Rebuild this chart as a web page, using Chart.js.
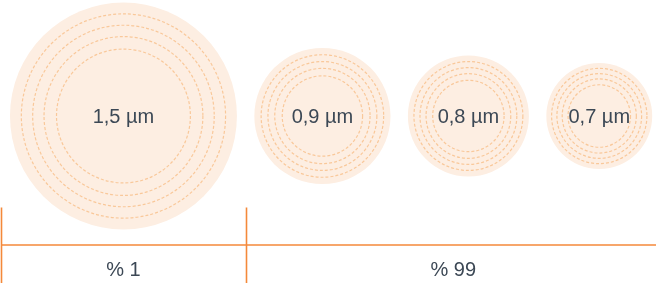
<!DOCTYPE html>
<html>
<head>
<meta charset="utf-8">
<script src="https://cdn.jsdelivr.net/npm/chart.js@4"></script>
<style>
  html, body { margin: 0; padding: 0; background: #fff; }
  #wrap { width: 656px; height: 286px; position: relative; }
</style>
</head>
<body>
<div id="wrap"><canvas id="chart"></canvas></div>
<script>
// particle diameters in µm
const sizes = [1.5, 0.9, 0.8, 0.7]
const sizeLabels = ['1,5 µm', '0,9 µm', '0,8 µm', '0,7 µm']
// share of particles, and how many circles belong to each group
const groupLabels = ['% 1', '% 99']
const groupMembers = [1, 3]
// dotted rings inside each circle, as share of the radius
const ringShares = [0.9, 0.8, 0.7, 0.59]

const GAP = 0.115
const FILL = '#fdeee2'
const RING = '#f9c89a'
const ORANGE = '#f4893a'
const TEXT = '#3c4855'
const FONT = '20px "Liberation Sans", Arial, sans-serif'

const centers = []
let pos = 0
sizes.forEach(d => {
  centers.push(pos + d / 2)
  pos += d + GAP
})

const points = centers.map((x, i) => ({ x, y: 0, d: sizes[i] }))

// radius in pixels, measured on the x scale so a circle is as wide as its diameter
const radiusFor = share => ctx => {
  if (!ctx.raw) return 0
  const s = ctx.chart.scales.x
  const r = (s.getPixelForValue(ctx.raw.d) - s.getPixelForValue(0)) / 2 * share
  return isFinite(r) ? r : 0
}

const datasets = [{
  data: points,
  order: 2,
  pointBackgroundColor: FILL,
  pointBorderWidth: 0,
  pointRadius: radiusFor(1),
  clip: false
}]

ringShares.forEach(share => {
  datasets.push({
    data: points,
    order: 1,
    dashed: true,
    pointBackgroundColor: 'rgba(0,0,0,0)',
    pointBorderColor: RING,
    pointBorderWidth: 1.2,
    pointRadius: radiusFor(share),
    clip: false
  })
})

const dashPlugin = {
  id: 'dash',
  beforeDatasetDraw (chart, args) {
    if (!chart.data.datasets[args.index].dashed) return
    chart.ctx.save()
    chart.ctx.setLineDash([3, 2])
  },
  afterDatasetDraw (chart, args) {
    if (!chart.data.datasets[args.index].dashed) return
    chart.ctx.restore()
  }
}

const labelPlugin = {
  id: 'sizeLabels',
  afterDatasetsDraw (chart) {
    const ctx = chart.ctx
    const meta = chart.getDatasetMeta(0)
    ctx.save()
    ctx.font = FONT
    ctx.fillStyle = TEXT
    ctx.textAlign = 'center'
    ctx.textBaseline = 'alphabetic'
    meta.data.forEach((el, i) => {
      ctx.fillText(sizeLabels[i], el.x, el.y + 7)
    })
    ctx.restore()
  }
}

const groupPlugin = {
  id: 'groups',
  afterDraw (chart) {
    const ctx = chart.ctx
    const x = chart.scales.x
    const bottom = chart.chartArea.bottom
    const lineY = bottom + 13

    // group edges in µm, taken from the circles they hold
    const edges = [-GAP / 2]
    let idx = 0
    groupMembers.forEach(n => {
      let end = 0
      for (let k = 0; k < n; k++) end = centers[idx + k] + sizes[idx + k] / 2
      idx += n
      edges.push(end + GAP / 2)
    })

    ctx.save()
    ctx.strokeStyle = ORANGE
    ctx.lineWidth = 1.6
    ctx.beginPath()
    ctx.moveTo(x.getPixelForValue(edges[0]), lineY)
    ctx.lineTo(chart.width, lineY)
    ctx.stroke()

    edges.forEach(e => {
      const px = Math.round(x.getPixelForValue(e)) + 0.5
      if (px > chart.width) return
      ctx.beginPath()
      ctx.moveTo(px, bottom - 24.5)
      ctx.lineTo(px, bottom + 51)
      ctx.stroke()
    })

    ctx.font = FONT
    ctx.fillStyle = TEXT
    ctx.textAlign = 'center'
    ctx.textBaseline = 'alphabetic'
    groupLabels.forEach((label, i) => {
      const mid = (x.getPixelForValue(edges[i]) + x.getPixelForValue(edges[i + 1])) / 2
      ctx.fillText(label, mid, bottom + 44)
    })
    ctx.restore()
  }
}

new Chart(document.getElementById('chart'), {
  type: 'scatter',
  data: { datasets },
  options: {
    responsive: true,
    maintainAspectRatio: false,
    animation: false,
    events: [],
    layout: { padding: { top: 0, left: 0, right: 0, bottom: 54 } },
    plugins: {
      legend: { display: false },
      tooltip: { enabled: false }
    },
    scales: {
      x: { type: 'linear', display: false, min: -0.066, max: 4.27 },
      y: { type: 'linear', display: false, min: -1, max: 1 }
    }
  },
  plugins: [dashPlugin, labelPlugin, groupPlugin]
})
</script>
</body>
</html>
